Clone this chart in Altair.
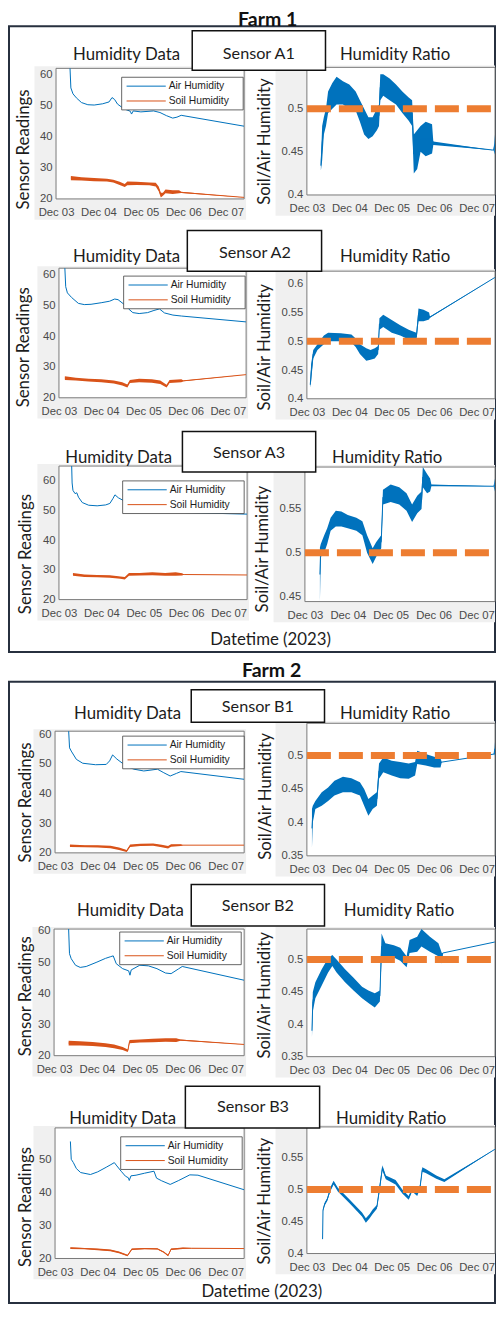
import altair as alt
import pandas as pd

# ---------------- values ----------------
# t = days after 2023-12-03 00:00
# humidity: (t, value) ; bands: (t, low, high)
a1_air = [(0.33,62.0),(0.35,55.7),(0.40,53.8),(0.48,52.5),(0.60,51.0),(0.75,50.3),(0.90,50.2),(1.10,50.6),(1.25,51.2),(1.32,52.6),(1.38,52.0),(1.45,50.5),(1.60,49.0),(1.75,48.2),(1.78,47.3),(1.82,48.3),(2.00,48.0),(2.30,48.3),(2.45,47.8),(2.60,46.8),(2.75,46.0),(2.85,46.3),(2.95,46.9),(4.43,43.4)]
a1_soil = [(0.35,26.0,27.4),(0.60,25.9,27.0),(0.90,25.7,26.7),(1.20,25.6,26.5),(1.35,25.3,26.2),(1.50,24.5,25.5),(1.62,23.8,24.8),(1.68,24.4,25.6),(1.90,24.5,25.5),(2.20,24.4,25.3),(2.35,24.0,25.2),(2.42,22.5,24.0),(2.47,20.5,22.0),(2.52,21.0,22.0),(2.58,21.8,23.0),(2.75,21.6,22.8),(2.90,21.8,22.8),(2.95,21.9,22.3),(4.43,20.5,20.5)]
a1_ratio = [(0.33,0.428,0.440),(0.36,0.440,0.480),(0.40,0.470,0.490),(0.45,0.480,0.500),(0.50,0.495,0.520),(0.60,0.500,0.530),(0.70,0.505,0.537),(0.85,0.505,0.532),(1.00,0.500,0.528),(1.15,0.498,0.520),(1.25,0.485,0.510),(1.35,0.470,0.500),(1.45,0.465,0.490),(1.55,0.468,0.490),(1.65,0.475,0.500),(1.70,0.480,0.505),(1.73,0.510,0.540),(1.80,0.515,0.540),(1.95,0.510,0.535),(2.10,0.505,0.528),(2.25,0.495,0.520),(2.40,0.486,0.513),(2.48,0.480,0.510),(2.52,0.425,0.470),(2.60,0.430,0.475),(2.68,0.450,0.480),(2.80,0.445,0.485),(2.95,0.448,0.482),(2.98,0.458,0.462),(4.40,0.452,0.452),(4.43,0.447,0.470)]

a2_air = [(0.14,62.0),(0.16,56.0),(0.20,54.0),(0.30,52.5),(0.46,50.6),(0.60,50.2),(0.76,50.3),(1.00,50.8),(1.20,51.3),(1.32,52.0),(1.40,51.8),(1.55,50.2),(1.65,48.8),(1.75,47.6),(1.90,47.3),(2.10,47.6),(2.25,48.3),(2.38,48.8),(2.50,47.5),(2.70,46.8),(2.90,46.5),(4.43,44.6)]
a2_soil = [(0.14,25.8,27.0),(0.40,25.6,26.5),(0.70,25.3,26.2),(1.00,25.0,26.0),(1.30,24.6,25.6),(1.50,24.0,25.0),(1.62,23.3,24.3),(1.68,24.8,25.8),(1.90,25.0,26.2),(2.20,24.9,26.0),(2.40,24.5,25.6),(2.55,23.3,24.2),(2.62,24.8,25.8),(2.90,25.0,26.0),(2.95,25.4,25.6),(4.43,27.5,27.5)]
a2_ratio = [(0.08,0.419,0.430),(0.10,0.430,0.460),(0.15,0.470,0.485),(0.25,0.485,0.495),(0.40,0.495,0.510),(0.50,0.500,0.515),(0.80,0.500,0.514),(1.05,0.498,0.512),(1.15,0.490,0.505),(1.25,0.478,0.495),(1.40,0.466,0.488),(1.50,0.468,0.485),(1.60,0.470,0.488),(1.68,0.478,0.492),(1.71,0.520,0.540),(1.80,0.525,0.546),(2.00,0.515,0.537),(2.20,0.510,0.528),(2.40,0.503,0.520),(2.58,0.500,0.515),(2.63,0.535,0.557),(2.75,0.535,0.555),(2.88,0.538,0.550),(2.90,0.541,0.543),(4.43,0.611,0.611)]

a3_air = [(0.30,65.0),(0.31,59.3),(0.33,56.8),(0.38,55.7),(0.42,56.0),(0.46,54.5),(0.55,52.7),(0.70,51.8),(0.90,51.6),(1.10,51.9),(1.20,52.4),(1.27,54.0),(1.32,55.3),(1.40,54.3),(1.53,53.3),(1.65,52.0),(1.76,51.0),(1.92,50.0),(2.07,49.7),(2.22,50.4),(2.50,50.5),(2.60,49.7),(2.80,49.4),(4.43,48.8)]
a3_soil = [(0.33,28.0,29.0),(0.60,27.6,28.5),(0.90,27.5,28.3),(1.20,27.4,28.2),(1.45,27.0,27.8),(1.55,26.8,27.6),(1.65,28.0,29.0),(1.90,28.1,29.0),(2.20,28.2,29.2),(2.50,28.0,29.0),(2.75,28.0,29.2),(2.90,28.1,28.9),(2.95,28.4,28.5),(4.43,28.3,28.3)]
a3_ratio = [(0.35,0.444,0.506),(0.37,0.495,0.510),(0.45,0.500,0.520),(0.52,0.510,0.528),(0.60,0.525,0.540),(0.72,0.530,0.548),(0.85,0.530,0.547),(1.00,0.528,0.543),(1.20,0.525,0.540),(1.34,0.520,0.536),(1.45,0.500,0.520),(1.58,0.487,0.505),(1.66,0.495,0.512),(1.78,0.505,0.520),(1.82,0.555,0.572),(2.00,0.558,0.578),(2.20,0.555,0.575),(2.37,0.548,0.568),(2.50,0.535,0.555),(2.62,0.545,0.565),(2.72,0.550,0.570),(2.75,0.575,0.598),(2.85,0.568,0.590),(2.92,0.570,0.585),(2.95,0.576,0.578),(4.40,0.576,0.576),(4.43,0.570,0.585)]

b1_air = [(0.32,61.0),(0.34,55.4),(0.38,54.3),(0.50,51.5),(0.65,50.2),(0.95,49.7),(1.20,49.8),(1.28,51.0),(1.35,53.0),(1.45,51.6),(1.58,50.2),(1.70,49.0),(1.85,48.2),(2.08,47.6),(2.25,47.9),(2.40,48.2),(2.55,47.0),(2.70,45.9),(2.85,46.8),(2.95,47.4),(4.43,44.8)]
b1_soil = [(0.35,22.0,22.8),(0.70,21.9,22.6),(1.00,21.8,22.6),(1.30,21.6,22.4),(1.50,21.0,21.8),(1.68,20.3,21.0),(1.76,22.0,22.8),(2.00,22.3,23.1),(2.30,22.4,23.2),(2.50,21.9,22.7),(2.65,21.5,22.3),(2.72,22.1,22.9),(2.95,22.3,22.9),(3.00,22.6,22.6),(4.43,22.6,22.6)]
b1_ratio = [(0.12,0.362,0.420),(0.14,0.400,0.425),(0.20,0.420,0.432),(0.35,0.425,0.445),(0.50,0.432,0.452),(0.65,0.440,0.462),(0.85,0.445,0.468),(1.05,0.445,0.466),(1.25,0.440,0.460),(1.35,0.425,0.450),(1.45,0.410,0.435),(1.55,0.420,0.440),(1.65,0.425,0.445),(1.70,0.465,0.488),(1.80,0.475,0.497),(2.00,0.470,0.492),(2.20,0.466,0.490),(2.40,0.465,0.488),(2.55,0.470,0.490),(2.60,0.487,0.507),(2.80,0.485,0.502),(3.00,0.482,0.498),(3.15,0.482,0.495),(3.18,0.490,0.490),(4.41,0.502,0.502),(4.43,0.500,0.520)]

b2_air = [(0.34,60.6),(0.36,52.7),(0.40,51.1),(0.50,49.0),(0.61,48.3),(0.75,48.6),(1.00,50.0),(1.20,51.2),(1.31,51.7),(1.38,52.0),(1.45,49.5),(1.60,47.9),(1.74,47.2),(1.77,45.8),(1.80,47.5),(2.00,49.0),(2.20,48.8),(2.40,47.9),(2.60,46.5),(2.73,46.3),(2.90,47.8),(2.99,48.6),(4.43,44.2)]
b2_soil = [(0.34,23.3,24.8),(0.60,23.3,24.6),(0.90,23.1,24.4),(1.20,22.8,24.0),(1.40,22.4,23.6),(1.60,21.8,22.8),(1.72,21.2,22.0),(1.76,24.0,25.0),(2.00,24.2,25.2),(2.30,24.3,25.4),(2.60,24.5,25.6),(2.85,24.4,25.6),(2.95,24.8,25.2),(4.43,23.6,23.6)]
b2_ratio = [(0.12,0.380,0.400),(0.14,0.420,0.450),(0.20,0.440,0.465),(0.35,0.460,0.485),(0.50,0.480,0.502),(0.60,0.490,0.507),(0.70,0.480,0.500),(0.90,0.465,0.485),(1.10,0.452,0.472),(1.30,0.440,0.458),(1.45,0.433,0.452),(1.60,0.426,0.448),(1.72,0.435,0.452),(1.76,0.500,0.540),(1.85,0.505,0.525),(2.05,0.503,0.522),(2.20,0.498,0.518),(2.35,0.488,0.505),(2.42,0.510,0.530),(2.60,0.512,0.535),(2.70,0.520,0.547),(2.90,0.512,0.535),(3.10,0.505,0.525),(3.18,0.494,0.510),(3.20,0.510,0.510),(4.43,0.527,0.527)]

b3_air = [(0.36,55.4),(0.38,50.0),(0.43,49.0),(0.50,47.2),(0.60,46.0),(0.83,45.4),(1.00,46.2),(1.20,47.6),(1.31,48.4),(1.39,49.0),(1.45,48.0),(1.55,46.4),(1.65,44.9),(1.72,44.4),(1.74,43.6),(1.78,45.0),(1.90,45.2),(2.10,45.8),(2.32,46.4),(2.38,44.3),(2.50,43.5),(2.70,42.4),(2.90,43.6),(3.16,45.3),(3.35,45.2),(4.43,40.8)]
b3_soil = [(0.36,22.9,23.4),(0.70,22.8,23.2),(1.00,22.5,23.0),(1.30,22.2,22.7),(1.50,21.6,22.1),(1.70,20.7,21.1),(1.80,22.6,23.0),(2.10,22.8,23.2),(2.40,22.7,23.1),(2.55,21.7,22.1),(2.65,20.7,21.1),(2.72,22.6,23.0),(3.00,22.9,23.3),(3.20,23.0,23.2),(4.43,23.0,23.0)]
b3_ratio = [(0.37,0.420,0.425),(0.38,0.466,0.470),(0.42,0.475,0.480),(0.48,0.482,0.487),(0.55,0.497,0.503),(0.63,0.508,0.514),(0.73,0.497,0.503),(1.00,0.479,0.485),(1.30,0.458,0.464),(1.39,0.448,0.455),(1.48,0.455,0.462),(1.55,0.462,0.469),(1.65,0.470,0.476),(1.72,0.500,0.510),(1.78,0.530,0.538),(1.86,0.516,0.522),(2.09,0.508,0.515),(2.25,0.494,0.500),(2.40,0.484,0.490),(2.48,0.497,0.503),(2.60,0.490,0.497),(2.67,0.502,0.508),(2.72,0.528,0.535),(2.80,0.526,0.532),(3.05,0.517,0.522),(3.24,0.512,0.516),(4.43,0.563,0.563)]

series_names = ["Air Humidity", "Soil Humidity"]
sensor_names = ["Sensor A1", "Sensor A2", "Sensor A3", "Sensor B1", "Sensor B2", "Sensor B3"]
farm_names = ["Farm 1", "Farm 2"]
date_ticks = [3, 4, 5, 6, 7]          # December 2023
ratio_target = 0.5
left_ticks = [20, 30, 40, 50, 60]

sensor_data = {
    "A1": (a1_air, a1_soil, a1_ratio), "A2": (a2_air, a2_soil, a2_ratio),
    "A3": (a3_air, a3_soil, a3_ratio), "B1": (b1_air, b1_soil, b1_ratio),
    "B2": (b2_air, b2_soil, b2_ratio), "B3": (b3_air, b3_soil, b3_ratio),
}

# ---------------- layout (reference pixels, mapped into the chart) ----------------
W, H = 488, 1296
def X(v): return (v - 5) * (W / 498.0)
def Y(v): return (v - 9) * (H / 1310.0)

BLUE, RED, ORANGE = "#0072BD", "#D95319", "#ED7D31"
SERIES_COLORS = [BLUE, RED]
BOX, BG, TXT, TICK = "#7a7a7a", "#f0f0f0", "#1c1c1c", "#4a4a4a"
FRAME = "#27303f"
FONT = "Lato"
TICKFONT = "Liberation Sans"

# sensor, kind, x0, x1, ytop, ybot, ymin, ymax, ticks
panels = [
    ("A1", "L", 54, 246, 70, 202, 20, 62, left_ticks),
    ("A1", "R", 310, 502, 69, 198, 0.4, 0.548, [0.4, 0.45, 0.5]),
    ("A2", "L", 57, 248, 272, 403, 20, 62, left_ticks),
    ("A2", "R", 310, 502, 275, 404, 0.4, 0.622, [0.4, 0.45, 0.5, 0.55, 0.6]),
    ("A3", "L", 57, 249, 472, 607, 20, 65, left_ticks),
    ("A3", "R", 308, 502, 473, 609, 0.444, 0.598, [0.45, 0.5, 0.55]),
    ("B1", "L", 53, 246, 740, 863, 20, 61, left_ticks),
    ("B1", "R", 310, 502, 732, 866, 0.35, 0.548, [0.35, 0.4, 0.45, 0.5]),
    ("B2", "L", 52, 246, 940, 1068, 20, 60.6, left_ticks),
    ("B2", "R", 310, 502, 940, 1069, 0.35, 0.547, [0.35, 0.4, 0.45, 0.5]),
    ("B3", "L", 53, 246, 1141, 1273, 20, 59.5, [20, 30, 40, 50]),
    ("B3", "R", 310, 502, 1140, 1268, 0.4, 0.598, [0.4, 0.45, 0.5, 0.55]),
]
legend_pos = {"A1": (121, 79), "A2": (123, 280), "A3": (122, 487),
              "B1": (122, 745), "B2": (119, 943), "B3": (120, 1150)}

BASE = pd.Timestamp("2023-12-03")
X_START = alt.DateTime(year=2023, month=12, date=3)
X_END = alt.DateTime(year=2023, month=12, date=7, hours=10, minutes=25)
END_TS = pd.Timestamp("2023-12-07 10:25")

def ts(t):
    return BASE + pd.to_timedelta(list(t), unit="D")

def x_enc(p, field):
    return alt.X(f"{field}:T",
        scale=alt.Scale(domain=[X_START, X_END], range=[X(p[2]), X(p[3])], nice=False, clamp=True),
        axis=alt.Axis(orient="bottom", offset=Y(p[5]) - H, format="%b %d",
                      values=[alt.DateTime(year=2023, month=12, date=d) for d in date_ticks],
                      labelFont=TICKFONT, labelFontSize=11.3, labelColor=TICK,
                      labelPadding=8, labelFlush=False, labelOverlap=False,
                      ticks=False, domain=False, grid=False, title=None, zindex=1))

def y_enc(p, field):
    fmt = "d" if p[1] == "L" else ".2~f"
    return alt.Y(f"{field}:Q",
        scale=alt.Scale(domain=[p[6], p[7]], range=[Y(p[5]), Y(p[4])], nice=False, zero=False, clamp=True),
        axis=alt.Axis(orient="left", offset=-X(p[2]), values=p[8], format=fmt,
                      labelFont=TICKFONT, labelFontSize=11.3, labelColor=TICK,
                      labelPadding=4, ticks=False, domain=False, grid=False, title=None, zindex=1))

def box_layer(p):
    df = pd.DataFrame({"time": [BASE], "time2": [END_TS], "lo": [p[6]], "hi": [p[7]]})
    return alt.Chart(df).mark_rect(fill="white", stroke=BOX, strokeWidth=1).encode(
        x=x_enc(p, "time"), x2=alt.X2("time2"), y=y_enc(p, "lo"), y2=alt.Y2("hi"))

def band_frame(rows):
    t, lo, hi = zip(*rows)
    df = pd.DataFrame({"time": ts(t), "lo": lo, "hi": hi})
    df["mid"] = (df["lo"] + df["hi"]) / 2
    return df

panel_layers = []
for p in panels:
    air, soil, ratio = sensor_data[p[0]]
    box = box_layer(p)
    if p[1] == "L":
        soil_df = band_frame(soil)
        at, av = zip(*air)
        lines = pd.concat([
            pd.DataFrame({"time": ts(at), "v": av, "series": series_names[0]}),
            pd.DataFrame({"time": soil_df["time"], "v": soil_df["mid"], "series": series_names[1]}),
        ], ignore_index=True)
        band = alt.Chart(soil_df).mark_area(color=RED, opacity=1).encode(
            x=x_enc(p, "time"), y=y_enc(p, "lo"), y2=alt.Y2("hi"))
        line = alt.Chart(lines).mark_line(strokeWidth=1).encode(
            x=x_enc(p, "time"), y=y_enc(p, "v"),
            color=alt.Color("series:N",
                            scale=alt.Scale(domain=series_names, range=SERIES_COLORS),
                            legend=None))
        panel_layers.append(alt.layer(box, band, line))
    else:
        rdf = band_frame(ratio)
        band = alt.Chart(rdf).mark_area(color=BLUE, opacity=1).encode(
            x=x_enc(p, "time"), y=y_enc(p, "lo"), y2=alt.Y2("hi"))
        line = alt.Chart(rdf).mark_line(color=BLUE, strokeWidth=1).encode(
            x=x_enc(p, "time"), y=y_enc(p, "mid"))
        ref_df = pd.DataFrame({"time": [BASE], "time2": [END_TS], "r": [ratio_target]})
        rule = alt.Chart(ref_df).mark_rule(color=ORANGE, strokeWidth=7, strokeDash=[24, 8]).encode(
            x=x_enc(p, "time"), x2=alt.X2("time2"), y=y_enc(p, "r"))
        panel_layers.append(alt.layer(box, band, line, rule))

def px(field):
    return alt.X(f"{field}:Q", scale=None, axis=None)
def py(field):
    return alt.Y(f"{field}:Q", scale=None, axis=None)

def rect_df(rows):
    df = pd.DataFrame(rows, columns=["x", "x2", "y", "y2"])
    df["x"] = df["x"].map(X).clip(lower=1); df["x2"] = df["x2"].map(X).clip(upper=W - 1)
    df["y"] = df["y"].map(Y); df["y2"] = df["y2"].map(Y).clip(upper=H - 1)
    return df

def text_df(rows, ymin=0, ymax=H):
    df = pd.DataFrame(rows, columns=["text", "x", "y"])
    df["x"] = df["x"].map(X); df["y"] = df["y"].map(Y).clip(lower=ymin, upper=ymax)
    return df

# gray figure background behind each axes
bg_rows = []
for p in panels:
    if p[1] == "L":
        bg_rows.append((p[2] - 22, p[3] + 2, p[4] - 2, p[5] + 21))
    else:
        bg_rows.append((p[2] - 32, 510, p[4] - 2, p[5] + 21))
bgs = alt.Chart(rect_df(bg_rows)).mark_rect(color=BG).encode(
    x=px("x"), x2=alt.X2("x2"), y=py("y"), y2=alt.Y2("y2"))

frames = alt.Chart(rect_df([(3, 505, 27.5, 660), (3, 505, 690, 1320)])).mark_rect(
    fillOpacity=0, stroke=FRAME, strokeWidth=2).encode(
    x=px("x"), x2=alt.X2("x2"), y=py("y"), y2=alt.Y2("y2"))

# legend boxes (one per Humidity Data panel)
leg_box_rows, leg_line_rows, leg_text_rows = [], [], []
for s, (lx, ly) in legend_pos.items():
    leg_box_rows.append((lx, lx + 124, ly, ly + 33))
    for i, name in enumerate(series_names):
        yy = ly + 9 + 15 * i
        leg_line_rows.append((X(lx + 5), X(lx + 45), Y(yy), SERIES_COLORS[i]))
        leg_text_rows.append((name, lx + 48, yy))
leg_boxes = alt.Chart(rect_df(leg_box_rows)).mark_rect(
    fill="white", stroke="#404040", strokeWidth=0.8).encode(
    x=px("x"), x2=alt.X2("x2"), y=py("y"), y2=alt.Y2("y2"))
leg_lines = alt.Chart(pd.DataFrame(leg_line_rows, columns=["x", "x2", "y", "c"])).mark_rule(
    strokeWidth=1).encode(x=px("x"), x2=alt.X2("x2"), y=py("y"),
                          color=alt.Color("c:N", scale=None))
leg_texts = alt.Chart(text_df(leg_text_rows)).mark_text(
    font=TICKFONT, fontSize=10.3, align="left", color=TXT).encode(
    x=px("x"), y=py("y"), text="text:N")

sensor_boxes = alt.Chart(rect_df([(193, 329, 32, 72), (188, 325, 234, 275), (183, 319, 437, 478),
                                  (192, 328, 698, 731), (192, 328, 895, 937), (186, 323, 1099, 1141)])
                         ).mark_rect(fill="white", stroke="#111111", strokeWidth=1.5).encode(
    x=px("x"), x2=alt.X2("x2"), y=py("y"), y2=alt.Y2("y2"))

sensor_text = alt.Chart(text_df([
    (sensor_names[0], 261, 55), (sensor_names[1], 257, 257), (sensor_names[2], 251, 459),
    (sensor_names[3], 260, 716), (sensor_names[4], 260, 917), (sensor_names[5], 255, 1120)])
).mark_text(font=FONT, fontSize=16.2, color=TXT).encode(x=px("x"), y=py("y"), text="text:N")

titles = alt.Chart(text_df([
    ("Humidity Data", 126, 57), ("Humidity Ratio", 400, 57),
    ("Humidity Data", 126, 261), ("Humidity Ratio", 400, 261),
    ("Humidity Data", 118, 464), ("Humidity Ratio", 392, 464),
    ("Humidity Data", 127, 723), ("Humidity Ratio", 400, 723),
    ("Humidity Data", 130, 922), ("Humidity Ratio", 404, 922),
    ("Humidity Data", 122, 1132), ("Humidity Ratio", 396, 1132),
    ("Datetime (2023)", 273, 648), ("Datetime (2023)", 264, 1313)], ymax=H - 12)
).mark_text(font=FONT, fontSize=16.8, color=TXT).encode(x=px("x"), y=py("y"), text="text:N")

farm_titles = alt.Chart(text_df([(farm_names[0], 270, 18.5), (farm_names[1], 274, 679)], ymin=12)
).mark_text(font=FONT, fontSize=19.5, fontWeight="bold", color="#111111").encode(
    x=px("x"), y=py("y"), text="text:N")

ytitles = alt.Chart(text_df([
    ("Sensor Readings", 21, 152), ("Soil/Air Humidity", 267, 144),
    ("Sensor Readings", 21, 352), ("Soil/Air Humidity", 267, 352),
    ("Sensor Readings", 23, 561), ("Soil/Air Humidity", 265, 556),
    ("Sensor Readings", 23, 812), ("Soil/Air Humidity", 268, 806),
    ("Sensor Readings", 23, 1008), ("Soil/Air Humidity", 267, 1007),
    ("Sensor Readings", 23, 1221), ("Soil/Air Humidity", 267, 1215)])
).mark_text(font=FONT, fontSize=16.8, angle=270, color=TXT).encode(x=px("x"), y=py("y"), text="text:N")

chart = alt.layer(
    frames, bgs, *panel_layers, leg_boxes, leg_lines, leg_texts,
    sensor_boxes, sensor_text, titles, farm_titles, ytitles
).resolve_scale(
    x="independent", y="independent", color="independent"
).resolve_axis(
    x="independent", y="independent"
).properties(
    width=W, height=H, padding=0, autosize=alt.AutoSizeParams(type="none")
).configure_view(stroke=None)

chart.save("out.html", embed_options={"renderer": "svg", "actions": False})
